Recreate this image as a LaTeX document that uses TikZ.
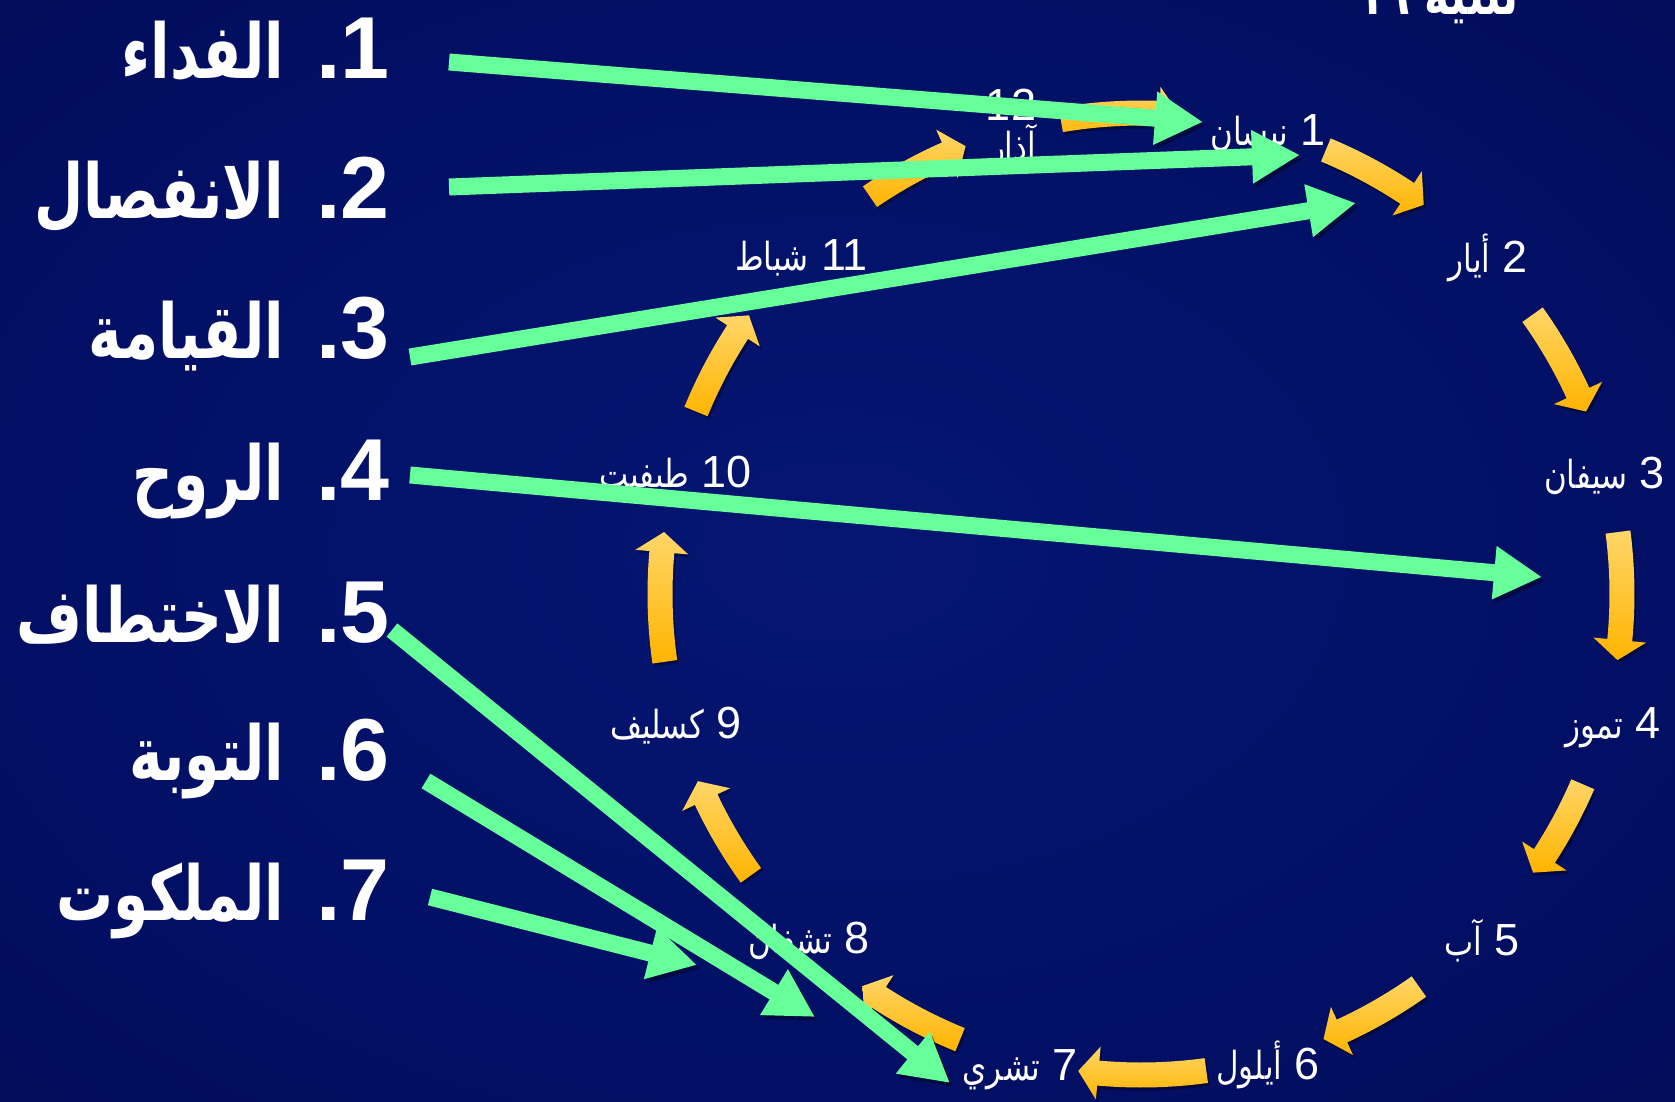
\documentclass[tikz,border=0pt]{standalone}
\usepackage{fontspec}
\setmainfont{Liberation Sans}
\newfontfamily\arabicfont[Script=Arabic, Scale=0.86, FakeStretch=0.8]{DejaVu Sans}
\newfontfamily\arabicbold[Script=Arabic, Scale=0.86, FakeStretch=0.75]{DejaVu Sans}
\usetikzlibrary{arrows.meta}
\TeXXeTstate=1
\definecolor{mint}{RGB}{102,255,153}
\definecolor{orlight}{RGB}{255,214,104}
\definecolor{ordark}{RGB}{255,180,0}
\definecolor{bgin}{RGB}{5,22,114}
\definecolor{bgmid}{RGB}{2,15,100}
\definecolor{bgout}{RGB}{0,8,76}
\pgfdeclareradialshading{bgshade}{\pgfpoint{0bp}{0bp}}{color(0bp)=(bgin); color(25bp)=(bgmid); color(50bp)=(bgout); color(75bp)=(bgout)}

\newcommand\cyclearrow[2]{%
  \pgfmathsetmacro\hb{#2-2.4}%
  \path[cyc] plot[domain=#1:\hb,samples=14] ({1141+493.5*cos(\x)},{594+493.5*sin(\x)})
    -- ({1141+507.5*cos(\hb)},{594+507.5*sin(\hb)})
    -- ({1141+481*cos(#2)},{594+481*sin(#2)})
    -- ({1141+454.5*cos(\hb)},{594+454.5*sin(\hb)})
    -- plot[domain=\hb:#1,samples=14] ({1141+468.5*cos(\x)},{594+468.5*sin(\x)})
    -- cycle;}

\begin{document}
\begin{tikzpicture}[x=1pt,y=-1pt,
  listitem/.style={anchor=base east, text=white, inner sep=0pt,
    font=\fontsize{88}{96}\selectfont\bfseries},
  month/.style={anchor=base east, text=white, inner sep=0pt,
    font=\fontsize{45}{50}\selectfont},
  cyc/.style={top color=orlight, bottom color=ordark,
    preaction={fill=black, opacity=0.35, transform canvas={xshift=2pt,yshift=-3pt}}},
  garrow/.style={draw=mint, line width=17pt, -{Triangle[length=48pt,width=50pt]},
    preaction={draw=black, opacity=0.35, transform canvas={xshift=3pt,yshift=-4pt}}}]
\useasboundingbox (0,0) rectangle (1675,1101);
\shade[shading=bgshade] (0,0) rectangle (1675,1101);

% title (cut off at the top)
\node[anchor=base east, text=white, inner sep=0pt,
  font=\fontsize{66}{72}\selectfont\bfseries] (title) at (1519,14)
  {\arabicbold\beginR تثنية \beginL١٦\endL\endR};

% cycle arrows
\cyclearrow{-99.6}{-85.4}
\cyclearrow{-67.4}{-54.0}
\cyclearrow{-35.5}{-22.3}
\cyclearrow{-7.4}{7.9}
\cyclearrow{23.3}{35.4}
\cyclearrow{54.7}{67.7}
\cyclearrow{82.2}{97.5}
\cyclearrow{112.1}{125.4}
\cyclearrow{144.2}{157.1}
\cyclearrow{171.9}{187.4}
\cyclearrow{202.3}{215.4}
\cyclearrow{235.7}{248.6}

% months
\node[month] (m1) at (1326,145) {\beginR 1 {\arabicfont نيسان}\endR};
\node[month] (m2) at (1528,272) {\beginR 2 {\arabicfont أيار}\endR};
\node[month] (m3) at (1665,488) {\beginR 3 {\arabicfont سيفان}\endR};
\node[month] (m4) at (1661,738) {\beginR 4 {\arabicfont تموز}\endR};
\node[month] (m5) at (1520,955) {\beginR 5 {\arabicfont آب}\endR};
\node[month] (m6) at (1320,1079) {\beginR 6 {\arabicfont أيلول}\endR};
\node[month] (m7) at (1078,1080) {\beginR 7 {\arabicfont تشري}\endR};
\node[month] (m8) at (870,953) {\beginR 8 {\arabicfont تشفان}\endR};
\node[month] (m9) at (742,738) {\beginR 9 {\arabicfont كسليف}\endR};
\node[month] (m10) at (752,487) {\beginR\beginL 10\endL{} {\arabicfont طيفيت}\endR};
\node[month] (m11) at (868,270) {\beginR\beginL 11\endL{} {\arabicfont شباط}\endR};
\node[month, anchor=base] (m12n) at (1011,120) {12};
\node[month, anchor=base] (m12) at (1013,160) {\arabicfont آذار};

% list
\node[listitem] (L1) at (390,78) {\beginR 1\kern0pt.\hskip 32pt{\arabicbold الفداء}\endR};
\node[listitem] (L2) at (390,218) {\beginR 2\kern0pt.\hskip 32pt{\arabicbold الانفصال}\endR};
\node[listitem] (L3) at (390,358) {\beginR 3\kern0pt.\hskip 32pt{\arabicbold القيامة}\endR};
\node[listitem] (L4) at (390,500) {\beginR 4\kern0pt.\hskip 32pt{\arabicbold الروح}\endR};
\node[listitem] (L5) at (390,642) {\beginR 5\kern0pt.\hskip 32pt{\arabicbold الاختطاف}\endR};
\node[listitem] (L6) at (390,780) {\beginR 6\kern0pt.\hskip 32pt{\arabicbold التوبة}\endR};
\node[listitem] (L7) at (390,920) {\beginR 7\kern0pt.\hskip 32pt{\arabicbold الملكوت}\endR};

% green arrows
\coordinate (g1s) at (449,62);  \coordinate (g1e) at (1203,122);
\coordinate (g2s) at (449,187); \coordinate (g2e) at (1300,155);
\coordinate (g3s) at (410,357); \coordinate (g3e) at (1356,203);
\coordinate (g4s) at (410,475); \coordinate (g4e) at (1542,577);
\coordinate (g5s) at (392,630); \coordinate (g5e) at (950,1083);
\coordinate (g6s) at (426,781); \coordinate (g6e) at (815,1017);
\coordinate (g7s) at (430,897); \coordinate (g7e) at (697,965);
\draw[garrow] (g1s) -- (g1e);
\draw[garrow] (g2s) -- (g2e);
\draw[garrow] (g3s) -- (g3e);
\draw[garrow] (g4s) -- (g4e);
\draw[garrow] (g5s) -- (g5e);
\draw[garrow] (g6s) -- (g6e);
\draw[garrow] (g7s) -- (g7e);
\end{tikzpicture}
\end{document}
